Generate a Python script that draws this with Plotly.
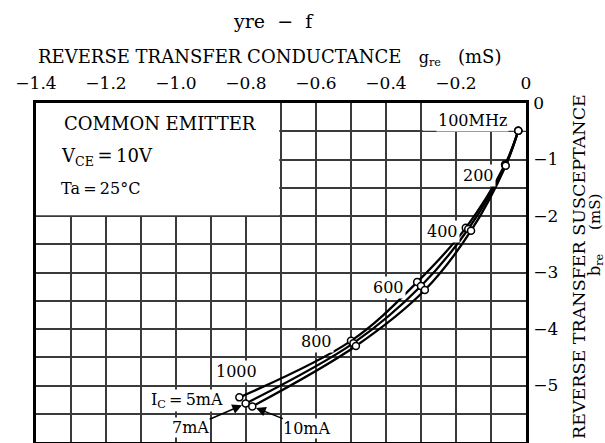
import plotly.graph_objects as go

# ---------------- data ----------------
freq_mhz = [100, 200, 400, 600, 800, 1000]
g_5mA = [-0.022, -0.060, -0.172, -0.311, -0.500, -0.819]
b_5mA = [-0.49, -1.09, -2.21, -3.17, -4.21, -5.21]
g_7mA = [-0.022, -0.059, -0.165, -0.300, -0.493, -0.801]
b_7mA = [-0.49, -1.10, -2.23, -3.24, -4.25, -5.32]
g_10mA = [-0.022, -0.058, -0.157, -0.289, -0.486, -0.782]
b_10mA = [-0.49, -1.11, -2.26, -3.31, -4.30, -5.37]

x_tickvals = [-1.4, -1.2, -1.0, -0.8, -0.6, -0.4, -0.2, 0.0]
x_ticktext = ["\u22121.4", "\u22121.2", "\u22121.0", "\u22120.8", "\u22120.6", "\u22120.4", "\u22120.2", "0"]
x_minor = [-1.3, -1.1, -0.9, -0.7, -0.5, -0.3, -0.1]
y_tickvals = [-6, -5, -4, -3, -2, -1, 0]
y_ticktext = ["\u22126", "\u22125", "\u22124", "\u22123", "\u22122", "\u22121", "0"]
y_minor = [-5.5, -4.5, -3.5, -2.5, -1.5, -0.5]

freq_labels = ["100MHz", "200", "400", "600", "800", "1000"]

# ---------------- layout geometry ----------------
W, H = 605, 443
L, R, T, B = 36, 79, 103, 1
PW, PH = W - L - R, H - T - B
XR = (-1.4, 0.0)
YR = (-6.0, 0.0)


def dx(px):
    return XR[0] + (px - L) / PW * (XR[1] - XR[0])


def dy(py):
    return YR[1] - (py - T) / PH * (YR[1] - YR[0])


def px_(px):
    return (px - L) / PW


def py_(py):
    return (H - B - py) / PH


FONT = "DejaVu Serif"
INK = "#000000"
GRID = "#3a3a3a"

fig = go.Figure()

series = [(g_5mA, b_5mA), (g_7mA, b_7mA), (g_10mA, b_10mA)]
for g, b in series:
    fig.add_trace(go.Scatter(x=g, y=b, mode="lines",
                             line=dict(color="black", width=2.3, shape="spline", smoothing=1.0),
                             hoverinfo="skip"))
for g, b in series:
    fig.add_trace(go.Scatter(x=g, y=b, mode="markers", text=[str(f) for f in freq_mhz],
                             marker=dict(symbol="circle", size=7, color="white",
                                         line=dict(color="black", width=1.5))))

# white masks over grid (legend box, 100MHz box)
fig.add_shape(type="rect", xref="x", yref="y", x0=-1.4, x1=-0.705, y0=-1.985, y1=0,
              fillcolor="white", line=dict(width=0), layer="between")
fig.add_shape(type="rect", xref="x", yref="y", x0=-0.295, x1=0, y0=-0.49, y1=0,
              fillcolor="white", line=dict(width=0), layer="between")


def A(text, x, y, xanchor="center", size=17, **kw):
    d = dict(text=text, x=px_(x), y=py_(y), xref="paper", yref="paper",
             xanchor=xanchor, yanchor="middle", showarrow=False, font=dict(size=size))
    d.update(kw)
    return d


ann = []
# title and axis titles
ann.append(A("yre\u00a0\u00a0\u2212\u00a0\u00a0f", 273, 21, size=19))
ann.append(A("REVERSE TRANSFER CONDUCTANCE\u00a0\u00a0\u00a0<span style='font-size:16px'>g<sub>re</sub></span>\u00a0\u00a0\u00a0(mS)",
             36, 57, xanchor="left", size=18))
ann.append(A("REVERSE TRANSFER SUSCEPTANCE", 579, 267, size=17.5, textangle=-90))
ann.append(A("<span style='font-size:16px'>b<sub>re</sub></span>\u00a0\u00a0\u00a0\u00a0\u00a0(mS)", 595, 235,
             size=15, textangle=-90))

# legend box text
ann.append(A("COMMON EMITTER", 62, 123, xanchor="left", size=18))
ann.append(A("V<sub>CE</sub>\u2009=\u200910V", 59, 157, xanchor="left", size=18))
ann.append(A("Ta\u2009=\u200925\u00b0C", 59, 188, xanchor="left", size=16))

# frequency labels
label_pos = [(472, 120), (478, 175), (442, 231), (388, 287), (316, 341), (236, 371)]
for t, (x, y) in zip(freq_labels, label_pos):
    ann.append(dict(text=t, x=dx(x), y=dy(y), xref="x", yref="y", showarrow=False,
                    xanchor="center", yanchor="middle",
                    bgcolor="white", borderpad=1, font=dict(size=16)))

# current labels
ann.append(dict(text="I<sub>C</sub>\u2009=\u20095mA", x=dx(187), y=dy(400), xref="x", yref="y",
                xanchor="center", yanchor="middle",
                showarrow=False, bgcolor="white", borderpad=0, font=dict(size=16)))
ann.append(dict(text="7mA", x=g_7mA[-1], y=b_7mA[-1], xref="x", yref="y",
                ax=-55, ay=24, axref="pixel", ayref="pixel", showarrow=True,
                arrowhead=2, arrowsize=1.3, arrowwidth=1.5, arrowcolor="black", standoff=4,
                bgcolor="white", borderpad=0, font=dict(size=16)))
ann.append(dict(text="10mA", x=g_10mA[-1], y=b_10mA[-1], xref="x", yref="y",
                ax=55, ay=22, axref="pixel", ayref="pixel", showarrow=True,
                arrowhead=2, arrowsize=1.3, arrowwidth=1.5, arrowcolor="black", standoff=4,
                bgcolor="white", borderpad=0, font=dict(size=16)))

fig.update_layout(
    template="none",
    width=W, height=H,
    margin=dict(l=L, r=R, t=T, b=B, pad=0),
    paper_bgcolor="white", plot_bgcolor="white",
    showlegend=False,
    font=dict(family=FONT, size=17, color=INK),
    annotations=ann,
    xaxis=dict(range=list(XR), side="top", tickvals=x_tickvals, ticktext=x_ticktext,
               showgrid=True, gridcolor=GRID, gridwidth=1.5, zeroline=False,
               minor=dict(tickvals=x_minor, showgrid=True, gridcolor=GRID, gridwidth=1.5, ticks=""),
               showline=True, mirror=True, linecolor="black", linewidth=2.5,
               ticks="", ticklabelstandoff=4, automargin=False,
               tickfont=dict(size=17, family=FONT, color=INK)),
    yaxis=dict(range=list(YR), side="right", tickvals=y_tickvals, ticktext=y_ticktext,
               showgrid=True, gridcolor=GRID, gridwidth=1.5, zeroline=False,
               minor=dict(tickvals=y_minor, showgrid=True, gridcolor=GRID, gridwidth=1.5, ticks=""),
               showline=True, mirror=True, linecolor="black", linewidth=2.5,
               ticks="", ticklabelstandoff=1, automargin=False,
               tickfont=dict(size=17, family=FONT, color=INK)),
)

fig.write_html("out.html", config={"displayModeBar": False},
               post_script="document.body.style.margin='0';")
